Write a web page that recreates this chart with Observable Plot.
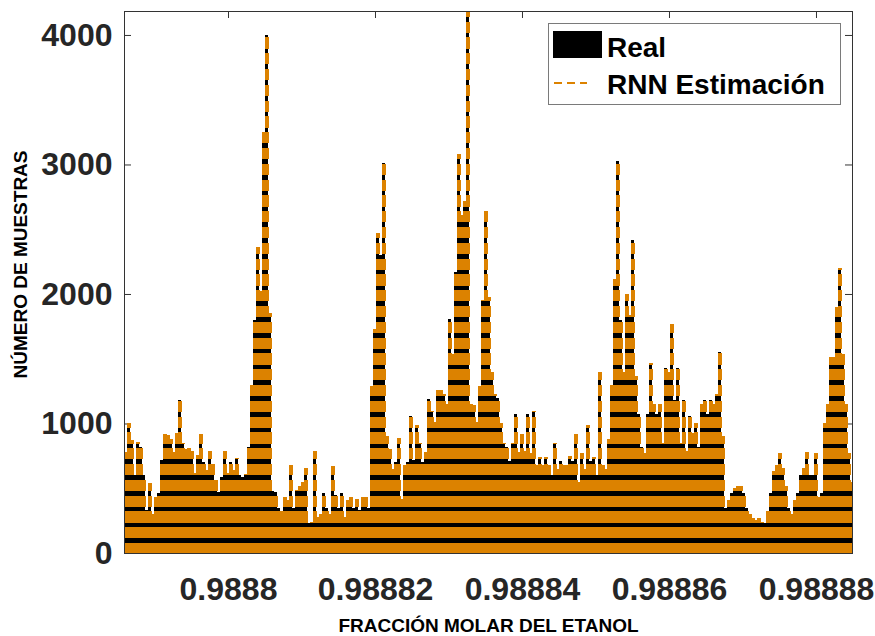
<!DOCTYPE html>
<html>
<head>
<meta charset="utf-8">
<script src="https://cdn.jsdelivr.net/npm/d3@7"></script>
<script src="https://cdn.jsdelivr.net/npm/@observablehq/plot@0.6"></script>
<style>
  body { margin: 0; background: #fff; }
  #chart { position: relative; width: 875px; height: 636px; font-family: "Liberation Sans", Arial, sans-serif; }
  #legend { position: absolute; left: 548px; top: 23px; width: 293px; height: 82px;
            border: 1px solid #7a7a7a; background: #fff; box-sizing: border-box; }
  #legend svg { display: block; }
</style>
</head>
<body>
<div id="chart"></div>
<script>
// Histogram counts per bin (molar fraction of ethanol), left to right
const counts = [
  780, 1000, 870, 600, 860, 820, 600, 330, 540, 300,
  430, 460, 720, 920, 910, 880, 780, 930, 1180, 850,
  800, 810, 790, 620, 760, 920, 700, 640, 790, 690,
  560, 470, 590, 790, 620, 700, 640, 730, 600, 590,
  610, 820, 1300, 1800, 2360, 2020, 3250, 4000, 1850, 480,
  470, 350, 325, 435, 410, 680, 350, 490, 520, 545,
  655, 230, 240, 790, 280, 300, 460, 350, 300, 670,
  450, 350, 460, 280, 410, 435, 350, 420, 330, 430,
  435, 350, 1290, 1730, 2470, 2300, 3010, 900, 800, 650,
  700, 890, 420, 680, 700, 1055, 720, 985, 850, 700,
  780, 1190, 1095, 1010, 1260, 1260, 1230, 1150, 1810, 1540,
  2170, 3080, 2610, 2720, 4180, 1150, 1140, 1010, 1290, 1950,
  2640, 1975, 1400, 1230, 1200, 1000, 850, 820, 710, 850,
  1070, 780, 920, 790, 1070, 770, 1100, 680, 740, 680,
  740, 680, 600, 850, 650, 710, 680, 680, 750, 710,
  920, 545, 770, 650, 985, 710, 740, 600, 1400, 680,
  650, 880, 1300, 2115, 3025, 1800, 1400, 2000, 1840, 2420,
  1370, 1070, 820, 770, 1070, 1470, 1150, 1070, 1150, 850,
  1430, 1400, 1770, 1180, 1430, 850, 1180, 790, 1055, 930,
  1000, 820, 1150, 1180, 1070, 1180, 1150, 1230, 1550, 900,
  350, 410, 460, 500, 520, 520, 460, 350, 300, 270,
  255, 270, 240, 230, 325, 460, 630, 680, 770, 655,
  520, 350, 300, 410, 460, 600, 655, 780, 600, 600,
  770, 435, 460, 1000, 1150, 1510, 1510, 1900, 2200, 1540,
  1150, 770, 550
];
const binStart = 0.98878585;   // left edge of the first bin
const binWidth = 4.0816e-7;    // bin width
const xEnd = 0.9888849;        // right edge of the axes

const xTicks = [0.9888, 0.98882, 0.98884, 0.98886, 0.98888];
const xTickLabels = ["0.9888", "0.98882", "0.98884", "0.98886", "0.98888"];
const yTicks = [0, 1000, 2000, 3000, 4000];
const yTickLabels = ["0", "1000", "2000", "3000", "4000"];
const yMax = 4185;

const seriesNames = ["Real", "RNN Estimación"];
const seriesColors = ["#000000", "#DC8200"];
const xTitle = "FRACCIÓN MOLAR DEL ETANOL";
const yTitle = "NÚMERO DE MUESTRAS";

const bins = counts.map((c, i) => ({
  x0: binStart + i * binWidth,
  x1: binStart + (i + 1) * binWidth,
  xm: binStart + (i + 0.5) * binWidth,
  count: c
}));

const W = 875, H = 636;
const mL = 124, mR = 23, mT = 11, mB = 83;
const innerW = W - mL - mR, innerH = H - mT - mB;
const axisColor = "#333333";
const tickFont = {fontSize: 32, fontWeight: "bold"};

const chart = Plot.plot({
  width: W,
  height: H,
  marginLeft: mL,
  marginRight: mR,
  marginTop: mT,
  marginBottom: mB,
  style: {fontFamily: "'Liberation Sans', Arial, sans-serif", color: "#262626", background: "#fff"},
  x: {domain: [binStart, xEnd], label: null},
  y: {domain: [0, yMax], label: null},
  marks: [
    // inward tick marks on the four sides of the box
    Plot.tickY(yTicks, {y: d => d, insetRight: innerW - 7, stroke: axisColor}),
    Plot.tickY(yTicks, {y: d => d, insetLeft: innerW - 7, stroke: axisColor}),
    Plot.tickX(xTicks, {x: d => d, insetBottom: innerH - 7, stroke: axisColor}),
    // measured histogram
    Plot.rectY(bins, {x1: "x0", x2: "x1", y: "count", fill: seriesColors[0], shapeRendering: "crispEdges", clip: true}),
    // RNN estimate drawn as dashed bin outlines
    Plot.ruleX(bins, {
      x: "xm", y1: 0, y2: "count",
      stroke: seriesColors[1], strokeWidth: 3.6,
      strokeDasharray: "11.2,4.6", strokeDashoffset: 1.2,
      shapeRendering: "crispEdges",
      clip: true
    }),
    Plot.frame({stroke: axisColor, strokeWidth: 1}),
    Plot.axisY(yTicks, {
      tickSize: 0, tickPadding: 12,
      tickFormat: d => yTickLabels[yTicks.indexOf(d)],
      ...tickFont, label: null
    }),
    Plot.axisX(xTicks, {
      tickSize: 0, tickPadding: 24,
      tickFormat: d => xTickLabels[xTicks.indexOf(d)],
      ...tickFont, label: null
    }),
    Plot.text([yTitle], {
      text: d => d, frameAnchor: "left", rotate: -90, dx: -104, dy: -18,
      textAnchor: "middle", lineAnchor: "middle",
      fontSize: 19, fontWeight: "bold", fill: "#000"
    }),
    Plot.text([xTitle], {
      text: d => d, frameAnchor: "bottom", dy: 72,
      textAnchor: "middle", lineAnchor: "middle",
      fontSize: 19, fontWeight: "bold", fill: "#000"
    })
  ]
});

const host = document.getElementById("chart");
host.appendChild(chart);

// legend box inside the axes, top right
const legend = document.createElement("div");
legend.id = "legend";
const ns = "http://www.w3.org/2000/svg";
const lsvg = document.createElementNS(ns, "svg");
lsvg.setAttribute("width", 291);
lsvg.setAttribute("height", 80);
lsvg.setAttribute("font-family", "'Liberation Sans', Arial, sans-serif");
const sw = document.createElementNS(ns, "rect");
sw.setAttribute("x", 4); sw.setAttribute("y", 7);
sw.setAttribute("width", 49); sw.setAttribute("height", 27);
sw.setAttribute("fill", seriesColors[0]);
lsvg.appendChild(sw);
const dl = document.createElementNS(ns, "line");
dl.setAttribute("x1", 5); dl.setAttribute("x2", 38);
dl.setAttribute("y1", 59); dl.setAttribute("y2", 59);
dl.setAttribute("stroke", seriesColors[1]);
dl.setAttribute("stroke-width", 2);
dl.setAttribute("stroke-dasharray", "8,5");
lsvg.appendChild(dl);
seriesNames.forEach((name, i) => {
  const t = document.createElementNS(ns, "text");
  t.setAttribute("x", 58);
  t.setAttribute("y", i === 0 ? 33 : 70);
  t.setAttribute("font-size", 28);
  t.setAttribute("font-weight", "bold");
  t.setAttribute("fill", "#000");
  t.textContent = name;
  lsvg.appendChild(t);
});
legend.appendChild(lsvg);
host.appendChild(legend);
</script>
</body>
</html>
